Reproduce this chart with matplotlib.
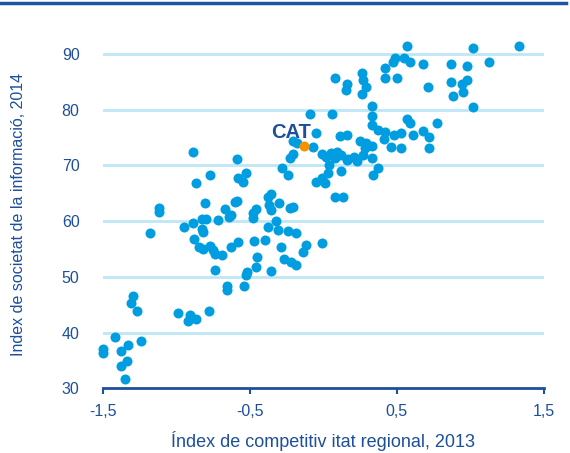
import matplotlib
matplotlib.use("Agg")
import matplotlib.pyplot as plt
from matplotlib.lines import Line2D

plt.rcParams['font.family'] = ['Liberation Sans', 'DejaVu Sans']

# regions: competitiveness index 2013 (x) vs information society index 2014 (y)
comp_2013 = [
    -0.89, -0.59, -0.77, -0.87, -0.58, -0.53, -0.55,
    -1.12, -1.12, -1.18, -0.81, -0.67, -0.63, -0.64,
    -0.60, -0.59, -0.72, -0.83, -0.80, -0.89, -0.95,
    -0.83, -0.82, -0.88, -0.85, -0.82, -0.77, -0.75,
    -0.74, -0.69, -0.63, -0.58, -0.74, -0.52, -0.53,
    -0.66, -0.66, -0.54, -1.30, -1.31, -1.27, -0.99,
    -0.91, -0.92, -0.87, -0.78, -1.42, -1.50, -1.50,
    -1.38, -1.33, -1.24, -1.34, -1.38, -1.35,
    -0.47, -0.40, -0.45, -0.46, -0.36, -0.27, -0.22,
    -0.19, -0.29, -0.12, -0.14, -0.01, -0.32, -0.38,
    -0.31, -0.24, -0.19, -0.46, -0.48, -0.48, -0.36,
    -0.37, -0.30, -0.23, -0.21, -0.36, -0.38, 0.08,
    0.13, -0.23, -0.28, -0.24, 0.02, 0.08, 0.16,
    0.23, 0.33, 0.04, 0.12, 0.03, -0.01, -0.05,
    0.01, 0.37, 0.34, 0.09, 0.17, 0.21, 0.28,
    0.57, 0.49, 0.47, 0.42, 0.55, 0.59, 0.42,
    0.50, 0.08, 0.16, 0.15, 0.26, 0.27, 0.29,
    0.26, 0.33, 0.33, -0.09, 0.06, 0.33, 0.37,
    0.42, 0.41, 0.48, 0.53, -0.05, -0.21, -0.18,
    -0.07, 0.11, 0.16, 0.25, 0.29, 0.33, 0.46,
    0.53, -0.21, -0.01, 0.05, 0.12, 0.27,
    1.02, 1.33, 0.68, 0.87, 0.98, 1.13, 0.71,
    0.87, 0.94, 0.98, 0.95, 0.88, 1.02, 0.57,
    0.59, 0.77, 0.61, 0.68, 0.72, 0.72,
]
info_2014 = [
    72.5, 71.1, 68.2, 66.8, 67.8, 68.6, 67.1,
    62.3, 61.6, 57.8, 63.2, 62.2, 61.2, 60.8,
    63.4, 63.6, 60.3, 60.4, 60.4, 59.7, 59.0,
    58.6, 58.0, 56.8, 55.4, 55.0, 55.5, 54.8,
    54.1, 53.9, 55.4, 56.3, 51.2, 50.8, 50.4,
    48.3, 47.6, 48.3, 46.5, 45.3, 43.9, 43.5,
    43.2, 42.1, 42.5, 43.9, 39.2, 37.1, 36.4,
    36.7, 37.8, 38.5, 34.9, 34.0, 31.7,
    56.4, 56.7, 53.6, 51.8, 51.1, 53.2, 52.6,
    52.1, 55.4, 55.8, 54.5, 56.0, 60.0, 59.0,
    58.5, 58.2, 57.8, 62.2, 61.4, 60.5, 62.0,
    62.9, 63.2, 62.3, 62.6, 64.8, 64.4, 64.3,
    64.3, 71.4, 69.6, 68.2, 71.6, 71.3, 71.0,
    70.8, 71.4, 70.1, 69.0, 68.6, 67.7, 67.1,
    66.8, 69.6, 68.2, 72.5, 71.1, 71.5, 73.1,
    91.4, 89.3, 88.6, 87.5, 89.3, 88.6, 85.7,
    85.7, 85.7, 84.7, 83.5, 86.5, 85.3, 84.1,
    82.8, 80.7, 78.9, 79.2, 79.2, 77.3, 76.4,
    76.0, 74.8, 75.5, 75.8, 75.8, 74.3, 74.0,
    73.4, 75.2, 75.5, 74.4, 74.0, 73.5, 73.4,
    73.1, 72.0, 72.1, 72.2, 71.9, 71.9,
    91.0, 91.4, 88.2, 88.2, 87.9, 88.6, 84.0,
    85.0, 84.6, 85.3, 83.2, 82.5, 80.4, 78.3,
    77.6, 77.6, 75.5, 76.1, 75.1, 73.2,
]
cat_x = [-0.13]
cat_y = [73.5]

x_ticks = [-1.5, -0.5, 0.5, 1.5]
x_ticklabels = ["-1,5", "-0,5", "0,5", "1,5"]
y_ticks = [30, 40, 50, 60, 70, 80, 90]

dark = "#1d4f9c"
dot = "#009ee0"

fig = plt.figure(figsize=(5.7, 4.53), dpi=100)
ax = fig.add_axes([0.181, 0.1426, 0.773, 0.769])

ax.scatter(comp_2013, info_2014, s=52, color=dot, linewidths=0, zorder=3, clip_on=False)
ax.scatter(cat_x, cat_y, s=52, color="#f39200", linewidths=0, zorder=4)
ax.annotate("CAT", (cat_x[0], cat_y[0]), xytext=(5, 3), textcoords="offset points",
            ha="right", va="bottom", fontsize=14.5, fontweight="bold", color=dark, zorder=5)

ax.set_xlim(-1.5, 1.5)
ax.set_ylim(30, 92.5)
ax.set_xticks(x_ticks)
ax.set_xticklabels(x_ticklabels)
ax.set_yticks(y_ticks)

for v in y_ticks[1:]:
    ax.axhline(v, color="#bfe6f7", lw=2, zorder=1)

for s in ["top", "right", "left"]:
    ax.spines[s].set_visible(False)
ax.spines["bottom"].set_color(dark)
ax.spines["bottom"].set_linewidth(2)
ax.spines["bottom"].set_zorder(6)
ax.tick_params(axis="x", colors=dark, direction="out", length=4, width=1.5,
               pad=7, labelsize=11.5, labelcolor=dark)
ax.tick_params(axis="y", length=0, pad=17, labelsize=11.5, labelcolor=dark)

ax.set_xlabel("Índex de competitiv itat regional, 2013", fontsize=13, color=dark)
ax.set_ylabel("Index de societat de la informació, 2014", fontsize=11.5, color=dark)
ax.xaxis.set_label_coords(0.5, -0.122)
ax.yaxis.set_label_coords(-0.175, 0.5)

fig.add_artist(Line2D([0, 0.993], [0.993, 0.993], transform=fig.transFigure,
                      color="#1c56a3", lw=2.5))

fig.savefig("out.png", dpi=100)
